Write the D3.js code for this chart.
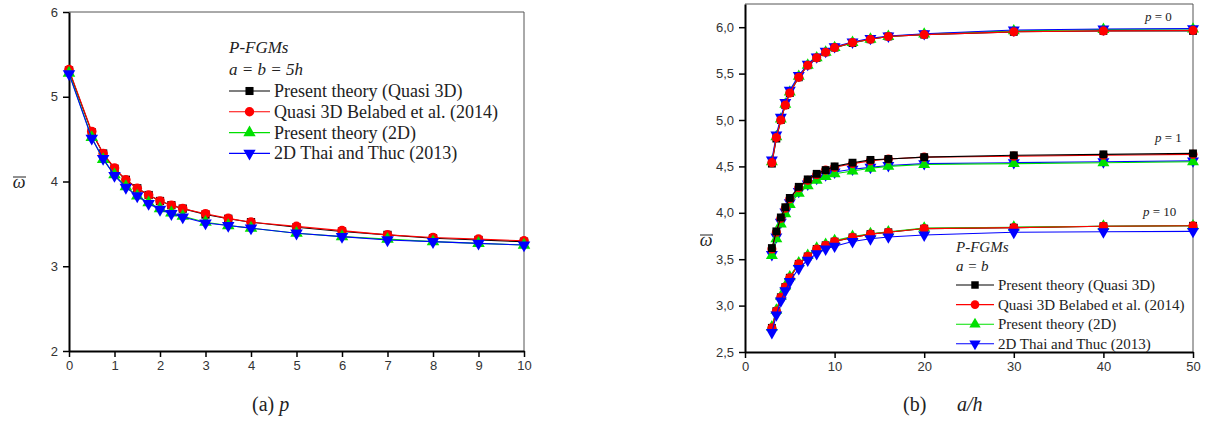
<!DOCTYPE html>
<html>
<head>
<meta charset="utf-8">
<script src="https://cdn.jsdelivr.net/npm/d3@7"></script>
<style>
  body { margin: 0; background: #fff; }
  svg { display: block; }
  .tick text { font-family: "Liberation Sans", Arial, sans-serif; font-size: 13px; fill: #333; }
  .serif { font-family: "Liberation Serif", "Times New Roman", serif; fill: #222; }
</style>
</head>
<body>
<svg id="chart" width="1208" height="423"></svg>
<script>
(function () {
  "use strict";

  // ---- (a) frequency vs p, a = b = 5h
  const pVals = [0, 0.5, 0.75, 1, 1.25, 1.5, 1.75, 2, 2.25, 2.5, 3, 3.5, 4, 5, 6, 7, 8, 9, 10];
  const pQuasi3D  = [5.31, 4.58, 4.33, 4.15, 4.02, 3.92, 3.84, 3.77, 3.72, 3.68, 3.61, 3.56, 3.52, 3.46, 3.41, 3.37, 3.33, 3.31, 3.29];
  const pBelabed  = [5.32, 4.59, 4.33, 4.16, 4.02, 3.92, 3.84, 3.77, 3.72, 3.68, 3.62, 3.565, 3.52, 3.47, 3.42, 3.37, 3.34, 3.32, 3.30];
  const p2D       = [5.28, 4.52, 4.26, 4.08, 3.94, 3.83, 3.75, 3.68, 3.63, 3.59, 3.52, 3.48, 3.45, 3.39, 3.35, 3.32, 3.29, 3.27, 3.25];
  const pThai     = [5.27, 4.51, 4.27, 4.07, 3.93, 3.83, 3.74, 3.67, 3.62, 3.58, 3.51, 3.48, 3.45, 3.39, 3.35, 3.31, 3.29, 3.27, 3.25];

  // ---- (b) frequency vs a/h for p = 0, 1, 10
  const ahVals = [3, 3.5, 4, 4.5, 5, 6, 7, 8, 9, 10, 12, 14, 16, 20, 30, 40, 50];
  const p0Quasi3D = [4.53, 4.80, 5.00, 5.16, 5.29, 5.46, 5.59, 5.67, 5.73, 5.78, 5.83, 5.87, 5.90, 5.92, 5.95, 5.96, 5.96];
  const p0Belabed = [4.54, 4.81, 5.00, 5.16, 5.29, 5.46, 5.59, 5.67, 5.73, 5.78, 5.835, 5.87, 5.90, 5.92, 5.95, 5.96, 5.965];
  const p02D      = [4.55, 4.82, 5.01, 5.17, 5.30, 5.47, 5.59, 5.67, 5.73, 5.78, 5.835, 5.87, 5.90, 5.925, 5.96, 5.975, 5.98];
  const p0Thai    = [4.57, 4.84, 5.03, 5.19, 5.32, 5.48, 5.60, 5.68, 5.74, 5.79, 5.84, 5.88, 5.905, 5.93, 5.97, 5.98, 5.985];

  const p1Quasi3D = [3.62, 3.80, 3.95, 4.06, 4.16, 4.28, 4.36, 4.42, 4.46, 4.50, 4.54, 4.57, 4.58, 4.60, 4.62, 4.63, 4.64];
  const p1Belabed = [3.61, 3.79, 3.94, 4.05, 4.15, 4.27, 4.35, 4.41, 4.46, 4.49, 4.53, 4.56, 4.58, 4.60, 4.61, 4.62, 4.63];
  const p12D      = [3.54, 3.72, 3.88, 3.99, 4.09, 4.21, 4.29, 4.35, 4.39, 4.42, 4.45, 4.48, 4.50, 4.52, 4.53, 4.54, 4.55];
  const p1Thai    = [3.55, 3.74, 3.90, 4.01, 4.11, 4.23, 4.31, 4.37, 4.41, 4.44, 4.47, 4.49, 4.51, 4.53, 4.54, 4.55, 4.56];

  const p10Quasi3D = [2.76, 2.94, 3.09, 3.20, 3.30, 3.45, 3.53, 3.61, 3.65, 3.69, 3.735, 3.77, 3.79, 3.83, 3.84, 3.855, 3.86];
  const p10Belabed = [2.76, 2.94, 3.09, 3.20, 3.30, 3.45, 3.53, 3.61, 3.65, 3.69, 3.735, 3.77, 3.79, 3.83, 3.84, 3.855, 3.86];
  const p102D      = [2.77, 2.95, 3.10, 3.21, 3.31, 3.46, 3.54, 3.62, 3.66, 3.70, 3.745, 3.775, 3.795, 3.835, 3.845, 3.855, 3.86];
  const p10Thai    = [2.71, 2.90, 3.05, 3.16, 3.26, 3.40, 3.49, 3.56, 3.61, 3.64, 3.69, 3.72, 3.74, 3.76, 3.79, 3.795, 3.80];

  const seriesNames = ["Present theory (Quasi 3D)", "Quasi 3D Belabed et al. (2014)", "Present theory (2D)", "2D Thai and Thuc (2013)"];
  const seriesColors = ["#000000", "#ff0000", "#00e000", "#0000ff"];
  const seriesSymbols = ["square", "circle", "up", "down"];

  const svg = d3.select("#chart");

  function symbolPath(kind, scale) {
    scale = scale || 1;
    if (kind === "square") return d3.symbol().type(d3.symbolSquare).size(62 * scale)();
    if (kind === "circle") return d3.symbol().type(d3.symbolCircle).size(66 * scale)();
    return d3.symbol().type(d3.symbolTriangle).size(62 * scale)();
  }

  function drawSeries(g, x, y, xs, ys, idx, scale) {
    const line = d3.line().x((d, i) => x(xs[i])).y(d => y(d));
    g.append("path")
      .attr("d", line(ys))
      .attr("fill", "none")
      .attr("stroke", seriesColors[idx])
      .attr("stroke-width", 1.1);
    g.selectAll(null).data(ys).enter().append("path")
      .attr("d", symbolPath(seriesSymbols[idx], scale))
      .attr("transform", (d, i) => `translate(${x(xs[i])},${y(d)})` + (seriesSymbols[idx] === "down" ? " rotate(180)" : ""))
      .attr("fill", seriesColors[idx]);
  }

  function axes(x, y, xMajor, xMinor, yMajor, yMinor, yFmt) {
    const [x0, x1] = x.range();
    const [y0, y1] = y.range();
    // thin frame on top and right
    svg.append("line").attr("x1", x0).attr("x2", x1).attr("y1", y1).attr("y2", y1)
      .attr("stroke", "#555").attr("stroke-width", 1);
    svg.append("line").attr("x1", x1).attr("x2", x1).attr("y1", y1).attr("y2", y0)
      .attr("stroke", "#555").attr("stroke-width", 1);

    const gx = svg.append("g").attr("transform", `translate(0,${y0})`);
    gx.call(d3.axisBottom(x).tickValues(xMinor).tickSize(3).tickFormat("").tickSizeOuter(0));
    gx.call(d3.axisBottom(x).tickValues(xMajor).tickSize(6).tickPadding(4).tickSizeOuter(0));
    const gy = svg.append("g").attr("transform", `translate(${x0},0)`);
    gy.call(d3.axisLeft(y).tickValues(yMinor).tickSize(3).tickFormat("").tickSizeOuter(0));
    gy.call(d3.axisLeft(y).tickValues(yMajor).tickSize(6).tickPadding(5).tickFormat(yFmt).tickSizeOuter(0));
    [gx, gy].forEach(g => {
      g.selectAll(".domain").attr("stroke", "#000").attr("stroke-width", 2);
      g.selectAll(".tick line").attr("stroke", "#000").attr("stroke-width", 1.5);
    });
  }

  function omegaLabel(cx, cy) {
    svg.append("text").attr("class", "serif")
      .attr("x", cx).attr("y", cy).attr("text-anchor", "middle")
      .style("font-size", "18px").style("font-style", "italic").text("ω");
    // overline drawn by hand above the glyph
    svg.append("line").attr("x1", cx - 6).attr("x2", cx + 7)
      .attr("y1", cy - 11).attr("y2", cy - 11).attr("stroke", "#222").attr("stroke-width", 1);
  }

  function legend(lx, t1y, t2y, e0y, dy, fontSize, lineLen, scale) {
    const g = svg.append("g");
    g.append("text").attr("class", "serif").attr("x", lx).attr("y", t1y)
      .style("font-size", fontSize + "px").style("font-style", "italic").text("P-FGMs");
    return g;
  }

  function legendEntries(g, lx, e0y, dy, fontSize, lineLen, scale) {
    seriesNames.forEach(function (name, i) {
      const yy = e0y + dy * i;
      g.append("line").attr("x1", lx).attr("x2", lx + lineLen).attr("y1", yy).attr("y2", yy)
        .attr("stroke", seriesColors[i]).attr("stroke-width", 1.1);
      g.append("path").attr("d", symbolPath(seriesSymbols[i], scale))
        .attr("transform", `translate(${lx + lineLen / 2},${yy})` + (seriesSymbols[i] === "down" ? " rotate(180)" : ""))
        .attr("fill", seriesColors[i]);
      g.append("text").attr("class", "serif").attr("x", lx + lineLen + 4).attr("y", yy + fontSize * 0.33)
        .style("font-size", fontSize + "px").text(name);
    });
  }

  // ---------- panel (a)
  const xa = d3.scaleLinear().domain([0, 10]).range([69, 524]);
  const ya = d3.scaleLinear().domain([2, 6]).range([351, 12]);
  axes(xa, ya, d3.range(0, 11, 1), d3.range(0.5, 10, 1), d3.range(2, 7, 1), d3.range(2.5, 6, 1), d3.format("d"));
  const ga = svg.append("g");
  const pSeries = [pQuasi3D, pBelabed, p2D, pThai];
  [0, 1, 2, 3].forEach(i => drawSeries(ga, xa, ya, pVals, pSeries[i], i, 1.1));

  const legA = legend(229, 53);
  legA.append("text").attr("class", "serif").attr("x", 229).attr("y", 75)
    .style("font-size", "17px").style("font-style", "italic").text("a = b = 5h");
  legA.select("text").style("font-size", "17px");
  legendEntries(legA, 229, 91, 20.8, 18, 41, 1.05);
  omegaLabel(19, 188);
  const capA = svg.append("text").attr("class", "serif").attr("x", 252).attr("y", 411)
    .style("font-size", "20px");
  capA.append("tspan").text("(a) ");
  capA.append("tspan").style("font-style", "italic").text("p");

  // ---------- panel (b)
  const xb = d3.scaleLinear().domain([0, 50]).range([745, 1193]);
  const yb = d3.scaleLinear().domain([2.5, 6.25]).range([352, 4]);
  const comma = d3.formatLocale({ decimal: ",", thousands: ".", grouping: [3], currency: ["", ""] }).format(".1f");
  axes(xb, yb, d3.range(0, 51, 10), d3.range(5, 50, 10), d3.range(2.5, 6.01, 0.5), d3.range(2.75, 6.25, 0.5), comma);
  const gb = svg.append("g");
  const groups = [
    { data: [p0Quasi3D, p0Belabed, p02D, p0Thai], order: [0, 2, 3, 1] },
    { data: [p1Quasi3D, p1Belabed, p12D, p1Thai], order: [3, 2, 1, 0] },
    { data: [p10Quasi3D, p10Belabed, p102D, p10Thai], order: [0, 2, 1, 3] }
  ];
  groups.forEach(grp => grp.order.forEach(i => drawSeries(gb, xb, yb, ahVals, grp.data[i], i, 1)));

  const pLabels = [["0", 1145, 21], ["1", 1155, 142], ["10", 1143, 216]];
  pLabels.forEach(function (d) {
    const t = svg.append("text").attr("class", "serif").attr("x", d[1]).attr("y", d[2]).style("font-size", "13px");
    t.append("tspan").style("font-style", "italic").text("p");
    t.append("tspan").text(" = " + d[0]);
  });
  const legB = legend(956, 252);
  legB.select("text").style("font-size", "15px");
  legB.append("text").attr("class", "serif").attr("x", 956).attr("y", 271)
    .style("font-size", "15px").style("font-style", "italic").text("a = b");
  legendEntries(legB, 956, 285, 19.6, 15, 38, 0.9);
  omegaLabel(706, 246);
  const capB = svg.append("text").attr("class", "serif").attr("x", 903).attr("y", 411)
    .style("font-size", "20px");
  capB.append("tspan").text("(b)");
  capB.append("tspan").attr("x", 957).style("font-style", "italic").text("a/h");
}());
</script>
</body>
</html>
